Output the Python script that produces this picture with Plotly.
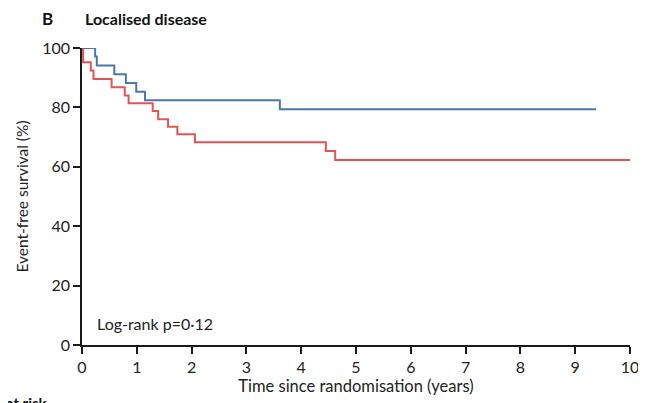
import plotly.graph_objects as go

# Kaplan-Meier step data (time in years, survival %)
blue_time = [0, 0.24, 0.27, 0.59, 0.80, 0.99, 1.15, 3.61, 9.38]
blue_surv = [100, 97.1, 94.1, 91.2, 88.2, 85.3, 82.4, 79.4, 79.4]

red_time = [0, 0.02, 0.16, 0.21, 0.54, 0.78, 0.85, 1.29, 1.39, 1.57, 1.74, 2.06, 4.45, 4.62, 10.0]
red_surv = [100, 95.2, 92.4, 89.6, 86.8, 84.0, 81.4, 78.8, 76.0, 73.5, 71.0, 68.3, 65.3, 62.3, 62.3]

x_ticks = list(range(0, 11))
y_ticks = [0, 20, 40, 60, 80, 100]

FONT = "Lato"
BLUE = "#4a78aa"
RED = "#e25555"

fig = go.Figure()
fig.add_trace(go.Scatter(x=red_time, y=red_surv, mode="lines",
                         line=dict(shape="hv", color=RED, width=2),
                         cliponaxis=False, showlegend=False))
fig.add_trace(go.Scatter(x=blue_time, y=blue_surv, mode="lines",
                         line=dict(shape="hv", color=BLUE, width=2),
                         cliponaxis=False, showlegend=False))

axis_common = dict(showgrid=False, zeroline=False, showline=True, linecolor="#1a1a1a",
                   linewidth=1.5, ticks="outside", ticklen=7, tickwidth=1.5,
                   tickcolor="#1a1a1a", automargin=False,
                   tickfont=dict(family=FONT, size=16, color="#222"))

# page body has an 8px margin, so the figure is 8px smaller and margins shifted
fig.update_layout(
    width=638, height=395, autosize=False,
    margin=dict(l=74, r=16, t=40, b=58),
    paper_bgcolor="white", plot_bgcolor="white",
    xaxis=dict(range=[0, 10], tickvals=x_ticks, ticktext=[str(v) for v in x_ticks],
               title=dict(text="Time since randomisation (years)",
                          font=dict(family=FONT, size=16.5, color="#222"), standoff=5),
               **axis_common),
    yaxis=dict(range=[0, 100], tickvals=y_ticks, ticktext=[str(v) for v in y_ticks],
               title=dict(text="Event-free survival (%)",
                          font=dict(family=FONT, size=15.5, color="#222"), standoff=10),
               **axis_common),
    annotations=[
        dict(text="<b>B</b>", xref="paper", yref="paper", x=-0.0766, y=1.101,
             xanchor="left", yanchor="middle", showarrow=False,
             font=dict(family=FONT, size=17, color="#111")),
        dict(text="<b>Localised disease</b>", xref="paper", yref="paper", x=0.002, y=1.101,
             xanchor="left", yanchor="middle", showarrow=False,
             font=dict(family=FONT, size=16, color="#111")),
        dict(text="Log-rank p=0·12", xref="x", yref="y", x=0.24, y=7.4,
             xanchor="left", yanchor="middle", showarrow=False,
             font=dict(family=FONT, size=16, color="#222")),
        dict(text="<b>Number at risk</b>", xref="paper", yref="paper", x=-0.058, y=-0.158,
             xanchor="right", yanchor="top", showarrow=False,
             font=dict(family=FONT, size=15, color="#111")),
    ],
)

fig.write_html("out.html")
